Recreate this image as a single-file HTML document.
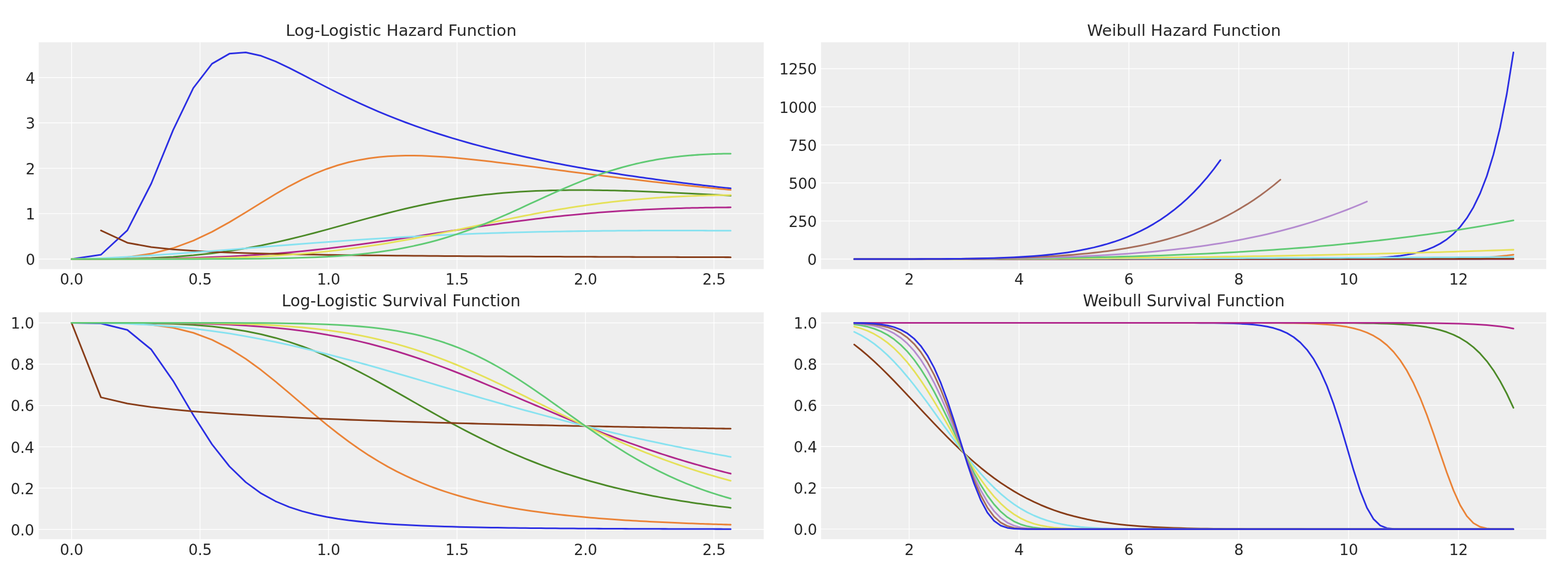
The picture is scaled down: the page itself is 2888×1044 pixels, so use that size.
<!DOCTYPE html>
<html lang="en"><head><meta charset="utf-8"><title>Hazard and Survival Functions</title>
<style>
html,body{margin:0;padding:0;background:#fff;}
body{width:2888px;height:1044px;overflow:hidden;}
svg{display:block;}
text{font-family:"DejaVu Sans","Liberation Sans",sans-serif;fill:#262626;}
.tk{font-size:27.62px;letter-spacing:-0.35px;}
.tt{font-size:29.6px;}
.g{stroke:#fff;stroke-width:1.4;fill:none;stroke-linecap:square;}
.l{fill:none;stroke-width:3.03;stroke-linecap:round;stroke-linejoin:round;}
</style></head>
<body>
<svg width="2888" height="1044" viewBox="0 0 2888 1044">
<rect width="2888" height="1044" fill="#fff"/>
<g id="ax0">
<rect x="71.3" y="77.8" width="1335.4" height="417.7" fill="#eeeeee"/>
<path class="g" stroke-linecap="butt" d="M131.8 77.8V495.5M368.45 77.8V495.5M605.1 77.8V495.5M841.76 77.8V495.5M1078.41 77.8V495.5M1315.06 77.8V495.5M71.3 476.98H1406.7M71.3 393.42H1406.7M71.3 309.86H1406.7M71.3 226.3H1406.7M71.3 142.74H1406.7"/>
<path class="l" stroke="#2b2ee3" d="M131.8 476.98 185.95 468.99 234.54 424.16 278.6 338 318.9 239.43 356.04 162.09 390.48 117.34 422.58 98.83 452.64 96.52 480.91 102.84 507.58 113.21 532.83 125.17 556.8 137.4 579.61 149.27 601.38 160.5 622.19 170.98 642.12 180.68 661.24 189.65 679.63 197.92 697.32 205.57 714.38 212.63 730.84 219.18 746.76 225.25 762.15 230.9 777.06 236.17 791.51 241.09 805.54 245.69 819.16 250.02 832.4 254.08 845.28 257.9 857.81 261.51 870.03 264.93 881.94 268.16 893.55 271.22 904.89 274.13 915.96 276.9 926.78 279.53 937.36 282.05 947.7 284.45 957.83 286.74 967.74 288.94 977.45 291.05 986.96 293.07 996.29 295.01 1005.44 296.87 1014.41 298.66 1023.22 300.39 1031.86 302.05 1040.35 303.66 1048.69 305.2 1056.89 306.7 1064.94 308.15 1072.86 309.54 1080.66 310.9 1088.32 312.21 1095.86 313.48 1103.29 314.71 1110.6 315.91 1117.8 317.07 1124.89 318.19 1131.87 319.29 1138.76 320.35 1145.54 321.39 1152.23 322.4 1158.83 323.38 1165.34 324.33 1171.75 325.27 1178.09 326.17 1184.33 327.06 1190.5 327.92 1196.59 328.77 1202.6 329.59 1208.53 330.4 1214.4 331.18 1220.19 331.95 1225.91 332.7 1231.56 333.44 1237.14 334.16 1242.66 334.86 1248.12 335.55 1253.51 336.23 1258.84 336.89 1264.12 337.53 1269.33 338.17 1274.49 338.79 1279.59 339.4 1284.64 340 1289.64 340.58 1294.58 341.16 1299.47 341.73 1304.32 342.28 1309.11 342.83 1313.85 343.36 1318.55 343.89 1323.2 344.4 1327.81 344.91 1332.37 345.41 1336.89 345.9 1341.37 346.38 1345.8 346.86"/>
<path class="l" stroke="#ea8337" d="M131.8 476.98 185.95 476.48 234.54 473.57 278.6 467.1 318.9 456.82 356.04 443.14 390.48 426.88 422.58 409.14 452.64 391.01 480.91 373.48 507.58 357.27 532.83 342.81 556.8 330.33 579.61 319.82 601.38 311.19 622.19 304.26 642.12 298.81 661.24 294.64 679.63 291.53 697.32 289.32 714.38 287.83 730.84 286.95 746.76 286.55 762.15 286.54 777.06 286.85 791.51 287.41 805.54 288.16 819.16 289.07 832.4 290.1 845.28 291.22 857.81 292.42 870.03 293.66 881.94 294.94 893.55 296.24 904.89 297.56 915.96 298.88 926.78 300.2 937.36 301.51 947.7 302.81 957.83 304.1 967.74 305.37 977.45 306.62 986.96 307.86 996.29 309.07 1005.44 310.26 1014.41 311.43 1023.22 312.58 1031.86 313.7 1040.35 314.8 1048.69 315.88 1056.89 316.94 1064.94 317.97 1072.86 318.98 1080.66 319.97 1088.32 320.94 1095.86 321.89 1103.29 322.82 1110.6 323.73 1117.8 324.62 1124.89 325.5 1131.87 326.35 1138.76 327.19 1145.54 328 1152.23 328.81 1158.83 329.59 1165.34 330.36 1171.75 331.12 1178.09 331.86 1184.33 332.58 1190.5 333.29 1196.59 333.99 1202.6 334.67 1208.53 335.34 1214.4 336 1220.19 336.65 1225.91 337.28 1231.56 337.9 1237.14 338.51 1242.66 339.11 1248.12 339.7 1253.51 340.28 1258.84 340.85 1264.12 341.41 1269.33 341.95 1274.49 342.49 1279.59 343.02 1284.64 343.55 1289.64 344.06 1294.58 344.56 1299.47 345.06 1304.32 345.55 1309.11 346.03 1313.85 346.5 1318.55 346.97 1323.2 347.42 1327.81 347.87 1332.37 348.32 1336.89 348.76 1341.37 349.19 1345.8 349.61"/>
<path class="l" stroke="#4c8a28" d="M131.8 476.98 185.95 476.88 234.54 476.3 278.6 475.01 318.9 472.92 356.04 470.02 390.48 466.39 422.58 462.09 452.64 457.23 480.91 451.95 507.58 446.34 532.83 440.53 556.8 434.62 579.61 428.7 601.38 422.86 622.19 417.16 642.12 411.66 661.24 406.39 679.63 401.4 697.32 396.68 714.38 392.26 730.84 388.15 746.76 384.32 762.15 380.79 777.06 377.54 791.51 374.56 805.54 371.83 819.16 369.34 832.4 367.07 845.28 365.02 857.81 363.16 870.03 361.48 881.94 359.97 893.55 358.61 904.89 357.4 915.96 356.31 926.78 355.35 937.36 354.49 947.7 353.74 957.83 353.08 967.74 352.5 977.45 352 986.96 351.56 996.29 351.2 1005.44 350.89 1014.41 350.63 1023.22 350.43 1031.86 350.27 1040.35 350.15 1048.69 350.06 1056.89 350.01 1064.94 349.99 1072.86 350 1080.66 350.04 1088.32 350.1 1095.86 350.18 1103.29 350.28 1110.6 350.39 1117.8 350.52 1124.89 350.67 1131.87 350.83 1138.76 351 1145.54 351.19 1152.23 351.38 1158.83 351.58 1165.34 351.79 1171.75 352 1178.09 352.23 1184.33 352.45 1190.5 352.69 1196.59 352.92 1202.6 353.17 1208.53 353.41 1214.4 353.66 1220.19 353.91 1225.91 354.16 1231.56 354.42 1237.14 354.67 1242.66 354.93 1248.12 355.19 1253.51 355.45 1258.84 355.71 1264.12 355.97 1269.33 356.23 1274.49 356.49 1279.59 356.75 1284.64 357.01 1289.64 357.27 1294.58 357.53 1299.47 357.79 1304.32 358.04 1309.11 358.3 1313.85 358.56 1318.55 358.81 1323.2 359.06 1327.81 359.32 1332.37 359.57 1336.89 359.82 1341.37 360.07 1345.8 360.31"/>
<path class="l" stroke="#b1288c" d="M131.8 476.98 185.95 476.95 234.54 476.76 278.6 476.35 318.9 475.69 356.04 474.76 390.48 473.59 422.58 472.18 452.64 470.55 480.91 468.75 507.58 466.78 532.83 464.67 556.8 462.44 579.61 460.13 601.38 457.74 622.19 455.3 642.12 452.83 661.24 450.34 679.63 447.85 697.32 445.37 714.38 442.91 730.84 440.48 746.76 438.09 762.15 435.74 777.06 433.44 791.51 431.21 805.54 429.03 819.16 426.91 832.4 424.86 845.28 422.88 857.81 420.96 870.03 419.11 881.94 417.33 893.55 415.62 904.89 413.97 915.96 412.39 926.78 410.87 937.36 409.42 947.7 408.02 957.83 406.69 967.74 405.41 977.45 404.19 986.96 403.02 996.29 401.91 1005.44 400.84 1014.41 399.82 1023.22 398.85 1031.86 397.93 1040.35 397.05 1048.69 396.21 1056.89 395.4 1064.94 394.64 1072.86 393.91 1080.66 393.22 1088.32 392.56 1095.86 391.93 1103.29 391.34 1110.6 390.77 1117.8 390.23 1124.89 389.72 1131.87 389.23 1138.76 388.77 1145.54 388.33 1152.23 387.91 1158.83 387.51 1165.34 387.13 1171.75 386.78 1178.09 386.44 1184.33 386.12 1190.5 385.82 1196.59 385.53 1202.6 385.26 1208.53 385 1214.4 384.76 1220.19 384.53 1225.91 384.31 1231.56 384.11 1237.14 383.92 1242.66 383.73 1248.12 383.56 1253.51 383.4 1258.84 383.25 1264.12 383.11 1269.33 382.98 1274.49 382.86 1279.59 382.74 1284.64 382.64 1289.64 382.54 1294.58 382.45 1299.47 382.36 1304.32 382.28 1309.11 382.21 1313.85 382.15 1318.55 382.09 1323.2 382.03 1327.81 381.98 1332.37 381.94 1336.89 381.9 1341.37 381.87 1345.8 381.84"/>
<path class="l" stroke="#883d19" d="M185.95 424.29 234.54 446.89 278.6 455 318.9 459.24 356.04 461.86 390.48 463.66 422.58 464.97 452.64 465.98 480.91 466.77 507.58 467.42 532.83 467.96 556.8 468.42 579.61 468.81 601.38 469.14 622.19 469.44 642.12 469.71 661.24 469.94 679.63 470.15 697.32 470.34 714.38 470.52 730.84 470.68 746.76 470.82 762.15 470.96 777.06 471.08 791.51 471.2 805.54 471.31 819.16 471.41 832.4 471.5 845.28 471.59 857.81 471.67 870.03 471.75 881.94 471.83 893.55 471.9 904.89 471.97 915.96 472.03 926.78 472.09 937.36 472.15 947.7 472.2 957.83 472.25 967.74 472.31 977.45 472.35 986.96 472.4 996.29 472.44 1005.44 472.49 1014.41 472.53 1023.22 472.57 1031.86 472.61 1040.35 472.64 1048.69 472.68 1056.89 472.71 1064.94 472.75 1072.86 472.78 1080.66 472.81 1088.32 472.84 1095.86 472.87 1103.29 472.9 1110.6 472.92 1117.8 472.95 1124.89 472.98 1131.87 473 1138.76 473.03 1145.54 473.05 1152.23 473.07 1158.83 473.1 1165.34 473.12 1171.75 473.14 1178.09 473.16 1184.33 473.18 1190.5 473.2 1196.59 473.22 1202.6 473.24 1208.53 473.26 1214.4 473.28 1220.19 473.29 1225.91 473.31 1231.56 473.33 1237.14 473.34 1242.66 473.36 1248.12 473.38 1253.51 473.39 1258.84 473.41 1264.12 473.42 1269.33 473.44 1274.49 473.45 1279.59 473.47 1284.64 473.48 1289.64 473.49 1294.58 473.51 1299.47 473.52 1304.32 473.53 1309.11 473.54 1313.85 473.56 1318.55 473.57 1323.2 473.58 1327.81 473.59 1332.37 473.6 1336.89 473.62 1341.37 473.63 1345.8 473.64"/>
<path class="l" stroke="#88e2f0" d="M131.8 476.98 185.95 475.43 234.54 473.03 278.6 470.35 318.9 467.59 356.04 464.86 390.48 462.21 422.58 459.67 452.64 457.26 480.91 454.99 507.58 452.86 532.83 450.87 556.8 449.01 579.61 447.28 601.38 445.67 622.19 444.18 642.12 442.78 661.24 441.49 679.63 440.29 697.32 439.17 714.38 438.14 730.84 437.17 746.76 436.28 762.15 435.45 777.06 434.67 791.51 433.95 805.54 433.28 819.16 432.65 832.4 432.07 845.28 431.53 857.81 431.02 870.03 430.55 881.94 430.11 893.55 429.7 904.89 429.32 915.96 428.96 926.78 428.63 937.36 428.32 947.7 428.03 957.83 427.76 967.74 427.51 977.45 427.27 986.96 427.05 996.29 426.84 1005.44 426.65 1014.41 426.47 1023.22 426.31 1031.86 426.15 1040.35 426.01 1048.69 425.87 1056.89 425.75 1064.94 425.63 1072.86 425.52 1080.66 425.42 1088.32 425.33 1095.86 425.24 1103.29 425.16 1110.6 425.09 1117.8 425.02 1124.89 424.96 1131.87 424.9 1138.76 424.85 1145.54 424.8 1152.23 424.76 1158.83 424.72 1165.34 424.69 1171.75 424.66 1178.09 424.63 1184.33 424.61 1190.5 424.59 1196.59 424.57 1202.6 424.55 1208.53 424.54 1214.4 424.53 1220.19 424.52 1225.91 424.52 1231.56 424.51 1237.14 424.51 1242.66 424.51 1248.12 424.52 1253.51 424.52 1258.84 424.53 1264.12 424.53 1269.33 424.54 1274.49 424.55 1279.59 424.57 1284.64 424.58 1289.64 424.59 1294.58 424.61 1299.47 424.63 1304.32 424.64 1309.11 424.66 1313.85 424.68 1318.55 424.7 1323.2 424.72 1327.81 424.75 1332.37 424.77 1336.89 424.79 1341.37 424.82 1345.8 424.84"/>
<path class="l" stroke="#e5e159" d="M131.8 476.98 185.95 476.97 234.54 476.93 278.6 476.79 318.9 476.51 356.04 476.06 390.48 475.42 422.58 474.57 452.64 473.52 480.91 472.25 507.58 470.77 532.83 469.1 556.8 467.25 579.61 465.22 601.38 463.04 622.19 460.73 642.12 458.29 661.24 455.74 679.63 453.1 697.32 450.4 714.38 447.63 730.84 444.83 746.76 442 762.15 439.16 777.06 436.32 791.51 433.48 805.54 430.67 819.16 427.89 832.4 425.15 845.28 422.46 857.81 419.81 870.03 417.23 881.94 414.71 893.55 412.25 904.89 409.86 915.96 407.54 926.78 405.29 937.36 403.12 947.7 401.02 957.83 398.99 967.74 397.04 977.45 395.15 986.96 393.35 996.29 391.61 1005.44 389.94 1014.41 388.34 1023.22 386.81 1031.86 385.34 1040.35 383.93 1048.69 382.59 1056.89 381.3 1064.94 380.07 1072.86 378.9 1080.66 377.78 1088.32 376.71 1095.86 375.69 1103.29 374.72 1110.6 373.8 1117.8 372.92 1124.89 372.08 1131.87 371.28 1138.76 370.52 1145.54 369.8 1152.23 369.12 1158.83 368.47 1165.34 367.85 1171.75 367.27 1178.09 366.71 1184.33 366.18 1190.5 365.68 1196.59 365.21 1202.6 364.76 1208.53 364.34 1214.4 363.94 1220.19 363.56 1225.91 363.21 1231.56 362.87 1237.14 362.55 1242.66 362.25 1248.12 361.97 1253.51 361.71 1258.84 361.46 1264.12 361.23 1269.33 361.01 1274.49 360.81 1279.59 360.62 1284.64 360.44 1289.64 360.28 1294.58 360.12 1299.47 359.98 1304.32 359.85 1309.11 359.73 1313.85 359.62 1318.55 359.52 1323.2 359.43 1327.81 359.34 1332.37 359.27 1336.89 359.2 1341.37 359.14 1345.8 359.09"/>
<path class="l" stroke="#60ca74" d="M131.8 476.98 185.95 476.98 234.54 476.98 278.6 476.97 318.9 476.96 356.04 476.93 390.48 476.86 422.58 476.73 452.64 476.53 480.91 476.24 507.58 475.83 532.83 475.29 556.8 474.59 579.61 473.72 601.38 472.65 622.19 471.38 642.12 469.89 661.24 468.18 679.63 466.22 697.32 464.03 714.38 461.6 730.84 458.93 746.76 456.02 762.15 452.88 777.06 449.52 791.51 445.95 805.54 442.18 819.16 438.23 832.4 434.12 845.28 429.87 857.81 425.49 870.03 421 881.94 416.43 893.55 411.8 904.89 407.12 915.96 402.42 926.78 397.72 937.36 393.03 947.7 388.37 957.83 383.76 967.74 379.22 977.45 374.74 986.96 370.36 996.29 366.07 1005.44 361.89 1014.41 357.82 1023.22 353.87 1031.86 350.05 1040.35 346.35 1048.69 342.79 1056.89 339.36 1064.94 336.07 1072.86 332.91 1080.66 329.88 1088.32 326.99 1095.86 324.23 1103.29 321.59 1110.6 319.08 1117.8 316.69 1124.89 314.42 1131.87 312.27 1138.76 310.23 1145.54 308.3 1152.23 306.47 1158.83 304.74 1165.34 303.11 1171.75 301.58 1178.09 300.13 1184.33 298.77 1190.5 297.49 1196.59 296.28 1202.6 295.15 1208.53 294.1 1214.4 293.11 1220.19 292.18 1225.91 291.32 1231.56 290.51 1237.14 289.77 1242.66 289.07 1248.12 288.42 1253.51 287.83 1258.84 287.28 1264.12 286.77 1269.33 286.3 1274.49 285.87 1279.59 285.48 1284.64 285.12 1289.64 284.8 1294.58 284.5 1299.47 284.24 1304.32 284 1309.11 283.8 1313.85 283.61 1318.55 283.46 1323.2 283.32 1327.81 283.2 1332.37 283.11 1336.89 283.04 1341.37 282.98 1345.8 282.94"/>
<text class="tk" text-anchor="middle" x="131.8" y="524">0.0</text>
<text class="tk" text-anchor="middle" x="368.45" y="524">0.5</text>
<text class="tk" text-anchor="middle" x="605.1" y="524">1.0</text>
<text class="tk" text-anchor="middle" x="841.76" y="524">1.5</text>
<text class="tk" text-anchor="middle" x="1078.41" y="524">2.0</text>
<text class="tk" text-anchor="middle" x="1315.06" y="524">2.5</text>
<text class="tk" text-anchor="end" x="64.4" y="488">0</text>
<text class="tk" text-anchor="end" x="64.4" y="404">1</text>
<text class="tk" text-anchor="end" x="64.4" y="321">2</text>
<text class="tk" text-anchor="end" x="64.4" y="237">3</text>
<text class="tk" text-anchor="end" x="64.4" y="154">4</text>
<text class="tt" text-anchor="middle" transform="translate(738.8 66) scale(1.0 0.975)">Log-Logistic Hazard Function</text>
</g>
<g id="ax1">
<rect x="1512.3" y="77.8" width="1335.6" height="417.7" fill="#eeeeee"/>
<path class="g" stroke-linecap="butt" d="M1674.49 77.8V495.5M1876.85 77.8V495.5M2079.22 77.8V495.5M2281.58 77.8V495.5M2483.95 77.8V495.5M2686.31 77.8V495.5M1512.3 476.98H2847.9M1512.3 406.89H2847.9M1512.3 336.8H2847.9M1512.3 266.7H2847.9M1512.3 196.61H2847.9M1512.3 126.52H2847.9"/>
<path class="l" stroke="#2b2ee3" d="M1573.31 476.98 1585.57 476.98 1597.84 476.98 1610.1 476.98 1622.37 476.98 1634.63 476.98 1646.9 476.98 1659.16 476.98 1671.42 476.98 1683.69 476.98 1695.95 476.98 1708.22 476.98 1720.48 476.98 1732.75 476.98 1745.01 476.98 1757.28 476.98 1769.54 476.98 1781.8 476.98 1794.07 476.98 1806.33 476.98 1818.6 476.98 1830.86 476.98 1843.13 476.98 1855.39 476.98 1867.66 476.98 1879.92 476.98 1892.19 476.98 1904.45 476.98 1916.71 476.98 1928.98 476.98 1941.24 476.98 1953.51 476.98 1965.77 476.98 1978.04 476.98 1990.3 476.98 2002.57 476.98 2014.83 476.98 2027.09 476.98 2039.36 476.98 2051.62 476.98 2063.89 476.98 2076.15 476.98 2088.42 476.98 2100.68 476.98 2112.95 476.98 2125.21 476.98 2137.47 476.98 2149.74 476.98 2162 476.98 2174.27 476.98 2186.53 476.98 2198.8 476.98 2211.06 476.98 2223.33 476.98 2235.59 476.98 2247.85 476.98 2260.12 476.98 2272.38 476.97 2284.65 476.97 2296.91 476.97 2309.18 476.97 2321.44 476.97 2333.71 476.96 2345.97 476.96 2358.23 476.95 2370.5 476.94 2382.76 476.92 2395.03 476.9 2407.29 476.87 2419.56 476.83 2431.82 476.78 2444.09 476.71 2456.35 476.62 2468.61 476.49 2480.88 476.33 2493.14 476.11 2505.41 475.82 2517.67 475.44 2529.94 474.94 2542.2 474.29 2554.47 473.45 2566.73 472.35 2579 470.93 2591.26 469.1 2603.52 466.75 2615.79 463.72 2628.05 459.86 2640.32 454.92 2652.58 448.64 2664.85 440.66 2677.11 430.55 2689.38 417.78 2701.64 401.68 2713.9 381.42 2726.17 356 2738.43 324.18 2750.7 284.41 2762.96 234.82 2775.23 173.13 2787.49 96.52"/>
<path class="l" stroke="#ea8337" d="M1573.31 476.98 1585.57 476.98 1597.84 476.98 1610.1 476.98 1622.37 476.98 1634.63 476.98 1646.9 476.98 1659.16 476.98 1671.42 476.98 1683.69 476.98 1695.95 476.98 1708.22 476.98 1720.48 476.98 1732.75 476.98 1745.01 476.98 1757.28 476.98 1769.54 476.98 1781.8 476.98 1794.07 476.98 1806.33 476.98 1818.6 476.98 1830.86 476.98 1843.13 476.98 1855.39 476.98 1867.66 476.98 1879.92 476.98 1892.19 476.98 1904.45 476.98 1916.71 476.98 1928.98 476.98 1941.24 476.98 1953.51 476.98 1965.77 476.98 1978.04 476.98 1990.3 476.98 2002.57 476.98 2014.83 476.98 2027.09 476.98 2039.36 476.98 2051.62 476.98 2063.89 476.98 2076.15 476.98 2088.42 476.98 2100.68 476.98 2112.95 476.98 2125.21 476.98 2137.47 476.98 2149.74 476.98 2162 476.98 2174.27 476.98 2186.53 476.98 2198.8 476.98 2211.06 476.98 2223.33 476.98 2235.59 476.98 2247.85 476.98 2260.12 476.98 2272.38 476.98 2284.65 476.98 2296.91 476.98 2309.18 476.98 2321.44 476.98 2333.71 476.98 2345.97 476.98 2358.23 476.98 2370.5 476.98 2382.76 476.98 2395.03 476.98 2407.29 476.98 2419.56 476.97 2431.82 476.97 2444.09 476.97 2456.35 476.97 2468.61 476.97 2480.88 476.96 2493.14 476.96 2505.41 476.95 2517.67 476.94 2529.94 476.93 2542.2 476.92 2554.47 476.9 2566.73 476.88 2579 476.85 2591.26 476.81 2603.52 476.76 2615.79 476.7 2628.05 476.61 2640.32 476.51 2652.58 476.38 2664.85 476.21 2677.11 475.99 2689.38 475.72 2701.64 475.38 2713.9 474.95 2726.17 474.41 2738.43 473.74 2750.7 472.89 2762.96 471.84 2775.23 470.54 2787.49 468.91"/>
<path class="l" stroke="#4c8a28" d="M1573.31 476.98 1585.57 476.98 1597.84 476.98 1610.1 476.98 1622.37 476.98 1634.63 476.98 1646.9 476.98 1659.16 476.98 1671.42 476.98 1683.69 476.98 1695.95 476.98 1708.22 476.98 1720.48 476.98 1732.75 476.98 1745.01 476.98 1757.28 476.98 1769.54 476.98 1781.8 476.98 1794.07 476.98 1806.33 476.98 1818.6 476.98 1830.86 476.98 1843.13 476.98 1855.39 476.98 1867.66 476.98 1879.92 476.98 1892.19 476.98 1904.45 476.98 1916.71 476.98 1928.98 476.98 1941.24 476.98 1953.51 476.98 1965.77 476.98 1978.04 476.98 1990.3 476.98 2002.57 476.98 2014.83 476.98 2027.09 476.98 2039.36 476.98 2051.62 476.98 2063.89 476.98 2076.15 476.98 2088.42 476.98 2100.68 476.98 2112.95 476.98 2125.21 476.98 2137.47 476.98 2149.74 476.98 2162 476.98 2174.27 476.98 2186.53 476.98 2198.8 476.98 2211.06 476.98 2223.33 476.98 2235.59 476.98 2247.85 476.98 2260.12 476.98 2272.38 476.98 2284.65 476.98 2296.91 476.98 2309.18 476.98 2321.44 476.98 2333.71 476.98 2345.97 476.98 2358.23 476.98 2370.5 476.98 2382.76 476.98 2395.03 476.98 2407.29 476.98 2419.56 476.98 2431.82 476.98 2444.09 476.98 2456.35 476.98 2468.61 476.98 2480.88 476.98 2493.14 476.98 2505.41 476.98 2517.67 476.98 2529.94 476.98 2542.2 476.98 2554.47 476.97 2566.73 476.97 2579 476.97 2591.26 476.97 2603.52 476.97 2615.79 476.97 2628.05 476.96 2640.32 476.96 2652.58 476.96 2664.85 476.95 2677.11 476.94 2689.38 476.93 2701.64 476.92 2713.9 476.91 2726.17 476.89 2738.43 476.86 2750.7 476.83 2762.96 476.8 2775.23 476.75 2787.49 476.69"/>
<path class="l" stroke="#b1288c" d="M1573.31 476.98 1585.57 476.98 1597.84 476.98 1610.1 476.98 1622.37 476.98 1634.63 476.98 1646.9 476.98 1659.16 476.98 1671.42 476.98 1683.69 476.98 1695.95 476.98 1708.22 476.98 1720.48 476.98 1732.75 476.98 1745.01 476.98 1757.28 476.98 1769.54 476.98 1781.8 476.98 1794.07 476.98 1806.33 476.98 1818.6 476.98 1830.86 476.98 1843.13 476.98 1855.39 476.98 1867.66 476.98 1879.92 476.98 1892.19 476.98 1904.45 476.98 1916.71 476.98 1928.98 476.98 1941.24 476.98 1953.51 476.98 1965.77 476.98 1978.04 476.98 1990.3 476.98 2002.57 476.98 2014.83 476.98 2027.09 476.98 2039.36 476.98 2051.62 476.98 2063.89 476.98 2076.15 476.98 2088.42 476.98 2100.68 476.98 2112.95 476.98 2125.21 476.98 2137.47 476.98 2149.74 476.98 2162 476.98 2174.27 476.98 2186.53 476.98 2198.8 476.98 2211.06 476.98 2223.33 476.98 2235.59 476.98 2247.85 476.98 2260.12 476.98 2272.38 476.98 2284.65 476.98 2296.91 476.98 2309.18 476.98 2321.44 476.98 2333.71 476.98 2345.97 476.98 2358.23 476.98 2370.5 476.98 2382.76 476.98 2395.03 476.98 2407.29 476.98 2419.56 476.98 2431.82 476.98 2444.09 476.98 2456.35 476.98 2468.61 476.98 2480.88 476.98 2493.14 476.98 2505.41 476.98 2517.67 476.98 2529.94 476.98 2542.2 476.98 2554.47 476.98 2566.73 476.98 2579 476.98 2591.26 476.98 2603.52 476.98 2615.79 476.98 2628.05 476.98 2640.32 476.98 2652.58 476.98 2664.85 476.98 2677.11 476.98 2689.38 476.97 2701.64 476.97 2713.9 476.97 2726.17 476.97 2738.43 476.97 2750.7 476.97 2762.96 476.97 2775.23 476.97 2787.49 476.96"/>
<path class="l" stroke="#883d19" d="M1573.31 476.91 1585.57 476.91 1597.84 476.9 1610.1 476.89 1622.37 476.88 1634.63 476.88 1646.9 476.87 1659.16 476.86 1671.42 476.85 1683.69 476.85 1695.95 476.84 1708.22 476.83 1720.48 476.82 1732.75 476.82 1745.01 476.81 1757.28 476.8 1769.54 476.79 1781.8 476.79 1794.07 476.78 1806.33 476.77 1818.6 476.76 1830.86 476.76 1843.13 476.75 1855.39 476.74 1867.66 476.73 1879.92 476.73 1892.19 476.72 1904.45 476.71 1916.71 476.7 1928.98 476.7 1941.24 476.69 1953.51 476.68 1965.77 476.67 1978.04 476.67 1990.3 476.66 2002.57 476.65 2014.83 476.64 2027.09 476.64 2039.36 476.63 2051.62 476.62 2063.89 476.61 2076.15 476.61 2088.42 476.6 2100.68 476.59 2112.95 476.58 2125.21 476.58 2137.47 476.57 2149.74 476.56 2162 476.55 2174.27 476.54 2186.53 476.54 2198.8 476.53 2211.06 476.52 2223.33 476.51 2235.59 476.51 2247.85 476.5 2260.12 476.49 2272.38 476.48 2284.65 476.48 2296.91 476.47 2309.18 476.46 2321.44 476.45 2333.71 476.45 2345.97 476.44 2358.23 476.43 2370.5 476.42 2382.76 476.42 2395.03 476.41 2407.29 476.4 2419.56 476.39 2431.82 476.39 2444.09 476.38 2456.35 476.37 2468.61 476.36 2480.88 476.36 2493.14 476.35 2505.41 476.34 2517.67 476.33 2529.94 476.33 2542.2 476.32 2554.47 476.31 2566.73 476.3 2579 476.3 2591.26 476.29 2603.52 476.28 2615.79 476.27 2628.05 476.27 2640.32 476.26 2652.58 476.25 2664.85 476.24 2677.11 476.24 2689.38 476.23 2701.64 476.22 2713.9 476.21 2726.17 476.21 2738.43 476.2 2750.7 476.19 2762.96 476.18 2775.23 476.17 2787.49 476.17"/>
<path class="l" stroke="#88e2f0" d="M1573.31 476.94 1585.57 476.93 1597.84 476.92 1610.1 476.91 1622.37 476.9 1634.63 476.89 1646.9 476.88 1659.16 476.87 1671.42 476.85 1683.69 476.84 1695.95 476.83 1708.22 476.81 1720.48 476.79 1732.75 476.78 1745.01 476.76 1757.28 476.74 1769.54 476.72 1781.8 476.7 1794.07 476.68 1806.33 476.66 1818.6 476.64 1830.86 476.62 1843.13 476.59 1855.39 476.57 1867.66 476.55 1879.92 476.52 1892.19 476.5 1904.45 476.47 1916.71 476.44 1928.98 476.42 1941.24 476.39 1953.51 476.36 1965.77 476.33 1978.04 476.3 1990.3 476.27 2002.57 476.24 2014.83 476.21 2027.09 476.18 2039.36 476.14 2051.62 476.11 2063.89 476.08 2076.15 476.04 2088.42 476.01 2100.68 475.97 2112.95 475.94 2125.21 475.9 2137.47 475.86 2149.74 475.82 2162 475.78 2174.27 475.75 2186.53 475.71 2198.8 475.67 2211.06 475.62 2223.33 475.58 2235.59 475.54 2247.85 475.5 2260.12 475.46 2272.38 475.41 2284.65 475.37 2296.91 475.32 2309.18 475.28 2321.44 475.23 2333.71 475.18 2345.97 475.14 2358.23 475.09 2370.5 475.04 2382.76 474.99 2395.03 474.94 2407.29 474.89 2419.56 474.84 2431.82 474.79 2444.09 474.74 2456.35 474.69 2468.61 474.64 2480.88 474.58 2493.14 474.53 2505.41 474.48 2517.67 474.42 2529.94 474.37 2542.2 474.31 2554.47 474.25 2566.73 474.2 2579 474.14 2591.26 474.08 2603.52 474.02 2615.79 473.96 2628.05 473.9 2640.32 473.84 2652.58 473.78 2664.85 473.72 2677.11 473.66 2689.38 473.6 2701.64 473.54 2713.9 473.47 2726.17 473.41 2738.43 473.35 2750.7 473.28 2762.96 473.22 2775.23 473.15 2787.49 473.08"/>
<path class="l" stroke="#e5e159" d="M1573.31 476.96 1585.57 476.95 1597.84 476.94 1610.1 476.94 1622.37 476.92 1634.63 476.91 1646.9 476.9 1659.16 476.88 1671.42 476.87 1683.69 476.85 1695.95 476.83 1708.22 476.8 1720.48 476.78 1732.75 476.75 1745.01 476.72 1757.28 476.69 1769.54 476.65 1781.8 476.62 1794.07 476.58 1806.33 476.53 1818.6 476.49 1830.86 476.44 1843.13 476.39 1855.39 476.34 1867.66 476.28 1879.92 476.22 1892.19 476.16 1904.45 476.1 1916.71 476.03 1928.98 475.96 1941.24 475.88 1953.51 475.81 1965.77 475.72 1978.04 475.64 1990.3 475.55 2002.57 475.46 2014.83 475.36 2027.09 475.26 2039.36 475.16 2051.62 475.06 2063.89 474.94 2076.15 474.83 2088.42 474.71 2100.68 474.59 2112.95 474.46 2125.21 474.33 2137.47 474.2 2149.74 474.06 2162 473.92 2174.27 473.77 2186.53 473.62 2198.8 473.46 2211.06 473.3 2223.33 473.14 2235.59 472.97 2247.85 472.79 2260.12 472.62 2272.38 472.43 2284.65 472.24 2296.91 472.05 2309.18 471.85 2321.44 471.65 2333.71 471.44 2345.97 471.23 2358.23 471.01 2370.5 470.79 2382.76 470.56 2395.03 470.33 2407.29 470.09 2419.56 469.85 2431.82 469.6 2444.09 469.34 2456.35 469.09 2468.61 468.82 2480.88 468.55 2493.14 468.27 2505.41 467.99 2517.67 467.7 2529.94 467.41 2542.2 467.11 2554.47 466.81 2566.73 466.5 2579 466.18 2591.26 465.86 2603.52 465.53 2615.79 465.2 2628.05 464.86 2640.32 464.51 2652.58 464.16 2664.85 463.8 2677.11 463.44 2689.38 463.07 2701.64 462.69 2713.9 462.31 2726.17 461.92 2738.43 461.52 2750.7 461.12 2762.96 460.71 2775.23 460.3 2787.49 459.87"/>
<path class="l" stroke="#60ca74" d="M1573.31 476.97 1585.57 476.96 1597.84 476.96 1610.1 476.95 1622.37 476.94 1634.63 476.93 1646.9 476.92 1659.16 476.9 1671.42 476.88 1683.69 476.86 1695.95 476.83 1708.22 476.8 1720.48 476.77 1732.75 476.73 1745.01 476.69 1757.28 476.64 1769.54 476.59 1781.8 476.53 1794.07 476.46 1806.33 476.39 1818.6 476.31 1830.86 476.22 1843.13 476.13 1855.39 476.03 1867.66 475.92 1879.92 475.8 1892.19 475.67 1904.45 475.53 1916.71 475.38 1928.98 475.22 1941.24 475.05 1953.51 474.87 1965.77 474.67 1978.04 474.46 1990.3 474.24 2002.57 474.01 2014.83 473.76 2027.09 473.5 2039.36 473.23 2051.62 472.93 2063.89 472.63 2076.15 472.3 2088.42 471.96 2100.68 471.6 2112.95 471.23 2125.21 470.83 2137.47 470.42 2149.74 469.99 2162 469.53 2174.27 469.06 2186.53 468.57 2198.8 468.05 2211.06 467.51 2223.33 466.95 2235.59 466.37 2247.85 465.76 2260.12 465.12 2272.38 464.47 2284.65 463.78 2296.91 463.07 2309.18 462.33 2321.44 461.57 2333.71 460.78 2345.97 459.95 2358.23 459.1 2370.5 458.22 2382.76 457.31 2395.03 456.37 2407.29 455.39 2419.56 454.39 2431.82 453.35 2444.09 452.27 2456.35 451.16 2468.61 450.02 2480.88 448.84 2493.14 447.62 2505.41 446.37 2517.67 445.08 2529.94 443.75 2542.2 442.38 2554.47 440.98 2566.73 439.53 2579 438.04 2591.26 436.51 2603.52 434.94 2615.79 433.32 2628.05 431.66 2640.32 429.95 2652.58 428.2 2664.85 426.4 2677.11 424.56 2689.38 422.67 2701.64 420.73 2713.9 418.74 2726.17 416.7 2738.43 414.62 2750.7 412.48 2762.96 410.28 2775.23 408.04 2787.49 405.74"/>
<path class="l" stroke="#b58cd0" d="M1573.31 476.97 1585.57 476.97 1597.84 476.97 1610.1 476.96 1622.37 476.95 1634.63 476.94 1646.9 476.93 1659.16 476.92 1671.42 476.9 1683.69 476.87 1695.95 476.84 1708.22 476.81 1720.48 476.77 1732.75 476.72 1745.01 476.66 1757.28 476.6 1769.54 476.52 1781.8 476.43 1794.07 476.33 1806.33 476.22 1818.6 476.09 1830.86 475.95 1843.13 475.79 1855.39 475.61 1867.66 475.41 1879.92 475.19 1892.19 474.94 1904.45 474.67 1916.71 474.37 1928.98 474.05 1941.24 473.69 1953.51 473.3 1965.77 472.88 1978.04 472.42 1990.3 471.92 2002.57 471.38 2014.83 470.8 2027.09 470.17 2039.36 469.49 2051.62 468.76 2063.89 467.98 2076.15 467.15 2088.42 466.25 2100.68 465.3 2112.95 464.28 2125.21 463.19 2137.47 462.03 2149.74 460.8 2162 459.49 2174.27 458.11 2186.53 456.64 2198.8 455.08 2211.06 453.43 2223.33 451.69 2235.59 449.85 2247.85 447.91 2260.12 445.87 2272.38 443.71 2284.65 441.45 2296.91 439.07 2309.18 436.56 2321.44 433.93 2333.71 431.17 2345.97 428.28 2358.23 425.25 2370.5 422.07 2382.76 418.75 2395.03 415.27 2407.29 411.64 2419.56 407.85 2431.82 403.88 2444.09 399.75 2456.35 395.44 2468.61 390.94 2480.88 386.26 2493.14 381.38 2505.41 376.3 2517.67 371.02"/>
<path class="l" stroke="#a76e5b" d="M1573.31 476.98 1585.57 476.97 1597.84 476.97 1610.1 476.97 1622.37 476.96 1634.63 476.95 1646.9 476.94 1659.16 476.93 1671.42 476.91 1683.69 476.89 1695.95 476.86 1708.22 476.82 1720.48 476.77 1732.75 476.72 1745.01 476.64 1757.28 476.56 1769.54 476.46 1781.8 476.34 1794.07 476.2 1806.33 476.03 1818.6 475.84 1830.86 475.61 1843.13 475.35 1855.39 475.05 1867.66 474.71 1879.92 474.33 1892.19 473.89 1904.45 473.39 1916.71 472.84 1928.98 472.21 1941.24 471.51 1953.51 470.73 1965.77 469.87 1978.04 468.91 1990.3 467.84 2002.57 466.67 2014.83 465.38 2027.09 463.96 2039.36 462.4 2051.62 460.7 2063.89 458.84 2076.15 456.81 2088.42 454.6 2100.68 452.21 2112.95 449.61 2125.21 446.79 2137.47 443.74 2149.74 440.45 2162 436.91 2174.27 433.09 2186.53 428.98 2198.8 424.57 2211.06 419.83 2223.33 414.76 2235.59 409.33 2247.85 403.53 2260.12 397.33 2272.38 390.71 2284.65 383.66 2296.91 376.15 2309.18 368.16 2321.44 359.66 2333.71 350.64 2345.97 341.07 2358.23 330.92"/>
<path class="l" stroke="#2b2ee3" d="M1573.31 476.98 1585.57 476.98 1597.84 476.97 1610.1 476.97 1622.37 476.97 1634.63 476.96 1646.9 476.95 1659.16 476.94 1671.42 476.92 1683.69 476.9 1695.95 476.87 1708.22 476.83 1720.48 476.78 1732.75 476.72 1745.01 476.63 1757.28 476.53 1769.54 476.4 1781.8 476.24 1794.07 476.05 1806.33 475.81 1818.6 475.53 1830.86 475.19 1843.13 474.8 1855.39 474.33 1867.66 473.78 1879.92 473.13 1892.19 472.38 1904.45 471.52 1916.71 470.52 1928.98 469.37 1941.24 468.06 1953.51 466.57 1965.77 464.88 1978.04 462.96 1990.3 460.79 2002.57 458.35 2014.83 455.61 2027.09 452.55 2039.36 449.12 2051.62 445.31 2063.89 441.07 2076.15 436.36 2088.42 431.16 2100.68 425.41 2112.95 419.07 2125.21 412.09 2137.47 404.43 2149.74 396.02 2162 386.82 2174.27 376.77 2186.53 365.8 2198.8 353.84 2211.06 340.84 2223.33 326.7 2235.59 311.37 2247.85 294.75"/>
<text class="tk" text-anchor="middle" x="1674.49" y="524">2</text>
<text class="tk" text-anchor="middle" x="1876.85" y="524">4</text>
<text class="tk" text-anchor="middle" x="2079.22" y="524">6</text>
<text class="tk" text-anchor="middle" x="2281.58" y="524">8</text>
<text class="tk" text-anchor="middle" x="2483.95" y="524">10</text>
<text class="tk" text-anchor="middle" x="2686.31" y="524">12</text>
<text class="tk" text-anchor="end" x="1504.2" y="488">0</text>
<text class="tk" text-anchor="end" x="1504.2" y="418">250</text>
<text class="tk" text-anchor="end" x="1504.2" y="348">500</text>
<text class="tk" text-anchor="end" x="1504.2" y="278">750</text>
<text class="tk" text-anchor="end" x="1504.2" y="208">1000</text>
<text class="tk" text-anchor="end" x="1504.2" y="137">1250</text>
<text class="tt" text-anchor="middle" transform="translate(2180.8 66) scale(1.0 0.975)">Weibull Hazard Function</text>
</g>
<g id="ax2">
<rect x="71.3" y="575.1" width="1335.4" height="417.6" fill="#eeeeee"/>
<path class="g" stroke-linecap="butt" d="M131.8 575.1V992.7M368.45 575.1V992.7M605.1 575.1V992.7M841.76 575.1V992.7M1078.41 575.1V992.7M1315.06 575.1V992.7M71.3 974.71H1406.7M71.3 898.67H1406.7M71.3 822.62H1406.7M71.3 746.58H1406.7M71.3 670.53H1406.7M71.3 594.48H1406.7"/>
<path class="l" stroke="#2b2ee3" d="M131.8 594.48 185.95 595.52 234.54 607.53 278.6 643.52 318.9 701.31 356.04 764.2 390.48 818.09 422.58 858.77 452.64 887.87 480.91 908.42 507.58 923.04 532.83 933.59 556.8 941.37 579.61 947.2 601.38 951.67 622.19 955.15 642.12 957.91 661.24 960.12 679.63 961.92 697.32 963.4 714.38 964.64 730.84 965.67 746.76 966.55 762.15 967.31 777.06 967.96 791.51 968.52 805.54 969.01 819.16 969.45 832.4 969.83 845.28 970.17 857.81 970.47 870.03 970.74 881.94 970.98 893.55 971.21 904.89 971.4 915.96 971.59 926.78 971.75 937.36 971.9 947.7 972.04 957.83 972.17 967.74 972.29 977.45 972.4 986.96 972.5 996.29 972.59 1005.44 972.68 1014.41 972.76 1023.22 972.83 1031.86 972.91 1040.35 972.97 1048.69 973.03 1056.89 973.09 1064.94 973.15 1072.86 973.2 1080.66 973.25 1088.32 973.29 1095.86 973.34 1103.29 973.38 1110.6 973.42 1117.8 973.46 1124.89 973.49 1131.87 973.53 1138.76 973.56 1145.54 973.59 1152.23 973.62 1158.83 973.65 1165.34 973.67 1171.75 973.7 1178.09 973.72 1184.33 973.74 1190.5 973.77 1196.59 973.79 1202.6 973.81 1208.53 973.83 1214.4 973.85 1220.19 973.87 1225.91 973.88 1231.56 973.9 1237.14 973.92 1242.66 973.93 1248.12 973.95 1253.51 973.96 1258.84 973.98 1264.12 973.99 1269.33 974 1274.49 974.02 1279.59 974.03 1284.64 974.04 1289.64 974.05 1294.58 974.06 1299.47 974.07 1304.32 974.08 1309.11 974.09 1313.85 974.1 1318.55 974.11 1323.2 974.12 1327.81 974.13 1332.37 974.14 1336.89 974.15 1341.37 974.16 1345.8 974.17"/>
<path class="l" stroke="#ea8337" d="M131.8 594.48 185.95 594.55 234.54 595.33 278.6 597.97 318.9 603.55 356.04 612.72 390.48 625.63 422.58 641.9 452.64 660.78 480.91 681.33 507.58 702.61 532.83 723.8 556.8 744.29 579.61 763.63 601.38 781.59 622.19 798.06 642.12 813.01 661.24 826.52 679.63 838.66 697.32 849.56 714.38 859.33 730.84 868.09 746.76 875.95 762.15 883 777.06 889.35 791.51 895.08 805.54 900.24 819.16 904.92 832.4 909.17 845.28 913.03 857.81 916.54 870.03 919.76 881.94 922.7 893.55 925.4 904.89 927.88 915.96 930.16 926.78 932.27 937.36 934.23 947.7 936.04 957.83 937.72 967.74 939.28 977.45 940.74 986.96 942.1 996.29 943.37 1005.44 944.56 1014.41 945.67 1023.22 946.72 1031.86 947.7 1040.35 948.63 1048.69 949.51 1056.89 950.33 1064.94 951.11 1072.86 951.85 1080.66 952.55 1088.32 953.21 1095.86 953.84 1103.29 954.43 1110.6 955 1117.8 955.54 1124.89 956.06 1131.87 956.55 1138.76 957.02 1145.54 957.47 1152.23 957.89 1158.83 958.3 1165.34 958.7 1171.75 959.07 1178.09 959.43 1184.33 959.78 1190.5 960.11 1196.59 960.43 1202.6 960.73 1208.53 961.03 1214.4 961.31 1220.19 961.59 1225.91 961.85 1231.56 962.1 1237.14 962.35 1242.66 962.58 1248.12 962.81 1253.51 963.03 1258.84 963.24 1264.12 963.45 1269.33 963.65 1274.49 963.84 1279.59 964.03 1284.64 964.21 1289.64 964.39 1294.58 964.56 1299.47 964.72 1304.32 964.88 1309.11 965.03 1313.85 965.19 1318.55 965.33 1323.2 965.47 1327.81 965.61 1332.37 965.75 1336.89 965.88 1341.37 966 1345.8 966.13"/>
<path class="l" stroke="#4c8a28" d="M131.8 594.48 185.95 594.5 234.54 594.65 278.6 595.18 318.9 596.31 356.04 598.23 390.48 601.07 422.58 604.89 452.64 609.71 480.91 615.49 507.58 622.16 532.83 629.62 556.8 637.76 579.61 646.45 601.38 655.56 622.19 664.99 642.12 674.6 661.24 684.3 679.63 694 697.32 703.62 714.38 713.1 730.84 722.39 746.76 731.43 762.15 740.21 777.06 748.7 791.51 756.89 805.54 764.76 819.16 772.32 832.4 779.55 845.28 786.48 857.81 793.1 870.03 799.42 881.94 805.45 893.55 811.2 904.89 816.68 915.96 821.91 926.78 826.89 937.36 831.64 947.7 836.16 957.83 840.48 967.74 844.59 977.45 848.52 986.96 852.26 996.29 855.83 1005.44 859.25 1014.41 862.51 1023.22 865.62 1031.86 868.6 1040.35 871.45 1048.69 874.18 1056.89 876.79 1064.94 879.29 1072.86 881.68 1080.66 883.98 1088.32 886.19 1095.86 888.3 1103.29 890.33 1110.6 892.29 1117.8 894.16 1124.89 895.97 1131.87 897.7 1138.76 899.37 1145.54 900.98 1152.23 902.54 1158.83 904.03 1165.34 905.47 1171.75 906.86 1178.09 908.21 1184.33 909.5 1190.5 910.76 1196.59 911.97 1202.6 913.14 1208.53 914.27 1214.4 915.37 1220.19 916.43 1225.91 917.45 1231.56 918.45 1237.14 919.41 1242.66 920.35 1248.12 921.26 1253.51 922.14 1258.84 922.99 1264.12 923.82 1269.33 924.62 1274.49 925.4 1279.59 926.16 1284.64 926.9 1289.64 927.62 1294.58 928.32 1299.47 929 1304.32 929.66 1309.11 930.31 1313.85 930.93 1318.55 931.54 1323.2 932.14 1327.81 932.72 1332.37 933.28 1336.89 933.84 1341.37 934.37 1345.8 934.9"/>
<path class="l" stroke="#b1288c" d="M131.8 594.48 185.95 594.49 234.54 594.54 278.6 594.7 318.9 595.06 356.04 595.68 390.48 596.59 422.58 597.84 452.64 599.44 480.91 601.39 507.58 603.7 532.83 606.35 556.8 609.33 579.61 612.62 601.38 616.19 622.19 620.03 642.12 624.1 661.24 628.38 679.63 632.83 697.32 637.45 714.38 642.19 730.84 647.04 746.76 651.97 762.15 656.96 777.06 662 791.51 667.06 805.54 672.13 819.16 677.2 832.4 682.24 845.28 687.26 857.81 692.23 870.03 697.15 881.94 702.02 893.55 706.82 904.89 711.56 915.96 716.22 926.78 720.8 937.36 725.29 947.7 729.71 957.83 734.04 967.74 738.28 977.45 742.43 986.96 746.49 996.29 750.47 1005.44 754.36 1014.41 758.15 1023.22 761.87 1031.86 765.49 1040.35 769.03 1048.69 772.49 1056.89 775.86 1064.94 779.15 1072.86 782.37 1080.66 785.5 1088.32 788.56 1095.86 791.54 1103.29 794.46 1110.6 797.3 1117.8 800.07 1124.89 802.77 1131.87 805.41 1138.76 807.98 1145.54 810.49 1152.23 812.94 1158.83 815.33 1165.34 817.67 1171.75 819.94 1178.09 822.17 1184.33 824.34 1190.5 826.46 1196.59 828.52 1202.6 830.55 1208.53 832.52 1214.4 834.45 1220.19 836.33 1225.91 838.17 1231.56 839.97 1237.14 841.73 1242.66 843.44 1248.12 845.12 1253.51 846.76 1258.84 848.37 1264.12 849.94 1269.33 851.48 1274.49 852.98 1279.59 854.45 1284.64 855.89 1289.64 857.3 1294.58 858.68 1299.47 860.02 1304.32 861.35 1309.11 862.64 1313.85 863.91 1318.55 865.15 1323.2 866.37 1327.81 867.56 1332.37 868.73 1336.89 869.87 1341.37 870.99 1345.8 872.09"/>
<path class="l" stroke="#883d19" d="M131.8 594.48 185.95 731.64 234.54 743.06 278.6 749.57 318.9 754.04 356.04 757.41 390.48 760.07 422.58 762.26 452.64 764.11 480.91 765.7 507.58 767.08 532.83 768.31 556.8 769.41 579.61 770.4 601.38 771.29 622.19 772.11 642.12 772.87 661.24 773.56 679.63 774.21 697.32 774.81 714.38 775.38 730.84 775.91 746.76 776.4 762.15 776.87 777.06 777.32 791.51 777.74 805.54 778.14 819.16 778.52 832.4 778.88 845.28 779.23 857.81 779.56 870.03 779.87 881.94 780.18 893.55 780.47 904.89 780.75 915.96 781.02 926.78 781.28 937.36 781.53 947.7 781.77 957.83 782.01 967.74 782.24 977.45 782.46 986.96 782.67 996.29 782.87 1005.44 783.07 1014.41 783.27 1023.22 783.46 1031.86 783.64 1040.35 783.82 1048.69 783.99 1056.89 784.16 1064.94 784.33 1072.86 784.49 1080.66 784.64 1088.32 784.8 1095.86 784.95 1103.29 785.09 1110.6 785.23 1117.8 785.37 1124.89 785.51 1131.87 785.64 1138.76 785.77 1145.54 785.9 1152.23 786.03 1158.83 786.15 1165.34 786.27 1171.75 786.39 1178.09 786.5 1184.33 786.62 1190.5 786.73 1196.59 786.84 1202.6 786.94 1208.53 787.05 1214.4 787.15 1220.19 787.25 1225.91 787.35 1231.56 787.45 1237.14 787.55 1242.66 787.64 1248.12 787.73 1253.51 787.83 1258.84 787.92 1264.12 788 1269.33 788.09 1274.49 788.18 1279.59 788.26 1284.64 788.35 1289.64 788.43 1294.58 788.51 1299.47 788.59 1304.32 788.67 1309.11 788.74 1313.85 788.82 1318.55 788.9 1323.2 788.97 1327.81 789.04 1332.37 789.12 1336.89 789.19 1341.37 789.26 1345.8 789.33"/>
<path class="l" stroke="#88e2f0" d="M131.8 594.48 185.95 594.81 234.54 596.07 278.6 598.28 318.9 601.33 356.04 605.08 390.48 609.38 422.58 614.1 452.64 619.14 480.91 624.4 507.58 629.8 532.83 635.29 556.8 640.8 579.61 646.31 601.38 651.78 622.19 657.18 642.12 662.5 661.24 667.71 679.63 672.82 697.32 677.81 714.38 682.68 730.84 687.42 746.76 692.03 762.15 696.52 777.06 700.88 791.51 705.12 805.54 709.23 819.16 713.23 832.4 717.1 845.28 720.87 857.81 724.52 870.03 728.06 881.94 731.5 893.55 734.84 904.89 738.08 915.96 741.23 926.78 744.29 937.36 747.26 947.7 750.14 957.83 752.95 967.74 755.67 977.45 758.32 986.96 760.9 996.29 763.41 1005.44 765.85 1014.41 768.23 1023.22 770.54 1031.86 772.79 1040.35 774.99 1048.69 777.12 1056.89 779.21 1064.94 781.24 1072.86 783.22 1080.66 785.16 1088.32 787.04 1095.86 788.88 1103.29 790.68 1110.6 792.44 1117.8 794.15 1124.89 795.83 1131.87 797.46 1138.76 799.06 1145.54 800.63 1152.23 802.16 1158.83 803.65 1165.34 805.12 1171.75 806.55 1178.09 807.96 1184.33 809.33 1190.5 810.67 1196.59 811.99 1202.6 813.28 1208.53 814.55 1214.4 815.79 1220.19 817 1225.91 818.2 1231.56 819.37 1237.14 820.51 1242.66 821.64 1248.12 822.74 1253.51 823.82 1258.84 824.89 1264.12 825.93 1269.33 826.96 1274.49 827.96 1279.59 828.95 1284.64 829.93 1289.64 830.88 1294.58 831.82 1299.47 832.74 1304.32 833.65 1309.11 834.54 1313.85 835.42 1318.55 836.28 1323.2 837.13 1327.81 837.96 1332.37 838.78 1336.89 839.59 1341.37 840.39 1345.8 841.17"/>
<path class="l" stroke="#e5e159" d="M131.8 594.48 185.95 594.48 234.54 594.49 278.6 594.54 318.9 594.66 356.04 594.9 390.48 595.3 422.58 595.9 452.64 596.74 480.91 597.84 507.58 599.22 532.83 600.9 556.8 602.88 579.61 605.17 601.38 607.77 622.19 610.67 642.12 613.86 661.24 617.32 679.63 621.05 697.32 625.02 714.38 629.21 730.84 633.6 746.76 638.17 762.15 642.91 777.06 647.78 791.51 652.76 805.54 657.85 819.16 663.01 832.4 668.23 845.28 673.49 857.81 678.78 870.03 684.07 881.94 689.36 893.55 694.64 904.89 699.88 915.96 705.08 926.78 710.24 937.36 715.34 947.7 720.37 957.83 725.33 967.74 730.22 977.45 735.03 986.96 739.75 996.29 744.39 1005.44 748.93 1014.41 753.39 1023.22 757.75 1031.86 762.02 1040.35 766.19 1048.69 770.28 1056.89 774.26 1064.94 778.16 1072.86 781.96 1080.66 785.67 1088.32 789.29 1095.86 792.82 1103.29 796.26 1110.6 799.61 1117.8 802.89 1124.89 806.07 1131.87 809.18 1138.76 812.21 1145.54 815.16 1152.23 818.04 1158.83 820.84 1165.34 823.57 1171.75 826.23 1178.09 828.82 1184.33 831.35 1190.5 833.81 1196.59 836.21 1202.6 838.54 1208.53 840.82 1214.4 843.04 1220.19 845.21 1225.91 847.32 1231.56 849.37 1237.14 851.38 1242.66 853.34 1248.12 855.25 1253.51 857.11 1258.84 858.92 1264.12 860.69 1269.33 862.42 1274.49 864.11 1279.59 865.76 1284.64 867.37 1289.64 868.93 1294.58 870.47 1299.47 871.96 1304.32 873.43 1309.11 874.85 1313.85 876.25 1318.55 877.61 1323.2 878.95 1327.81 880.25 1332.37 881.52 1336.89 882.77 1341.37 883.99 1345.8 885.18"/>
<path class="l" stroke="#60ca74" d="M131.8 594.48 185.95 594.48 234.54 594.48 278.6 594.48 318.9 594.49 356.04 594.5 390.48 594.53 422.58 594.58 452.64 594.68 480.91 594.84 507.58 595.07 532.83 595.41 556.8 595.88 579.61 596.49 601.38 597.27 622.19 598.25 642.12 599.45 661.24 600.88 679.63 602.58 697.32 604.54 714.38 606.79 730.84 609.34 746.76 612.19 762.15 615.35 777.06 618.82 791.51 622.6 805.54 626.68 819.16 631.06 832.4 635.72 845.28 640.65 857.81 645.83 870.03 651.24 881.94 656.86 893.55 662.67 904.89 668.65 915.96 674.78 926.78 681.02 937.36 687.36 947.7 693.77 957.83 700.24 967.74 706.73 977.45 713.22 986.96 719.71 996.29 726.17 1005.44 732.58 1014.41 738.93 1023.22 745.2 1031.86 751.39 1040.35 757.48 1048.69 763.46 1056.89 769.33 1064.94 775.07 1072.86 780.69 1080.66 786.18 1088.32 791.53 1095.86 796.74 1103.29 801.82 1110.6 806.75 1117.8 811.54 1124.89 816.2 1131.87 820.72 1138.76 825.09 1145.54 829.34 1152.23 833.45 1158.83 837.43 1165.34 841.28 1171.75 845.01 1178.09 848.62 1184.33 852.11 1190.5 855.48 1196.59 858.74 1202.6 861.89 1208.53 864.94 1214.4 867.88 1220.19 870.72 1225.91 873.47 1231.56 876.13 1237.14 878.7 1242.66 881.18 1248.12 883.57 1253.51 885.89 1258.84 888.13 1264.12 890.3 1269.33 892.39 1274.49 894.42 1279.59 896.37 1284.64 898.27 1289.64 900.1 1294.58 901.87 1299.47 903.59 1304.32 905.25 1309.11 906.85 1313.85 908.41 1318.55 909.91 1323.2 911.37 1327.81 912.79 1332.37 914.16 1336.89 915.48 1341.37 916.77 1345.8 918.02"/>
<text class="tk" text-anchor="middle" x="131.8" y="1022">0.0</text>
<text class="tk" text-anchor="middle" x="368.45" y="1022">0.5</text>
<text class="tk" text-anchor="middle" x="605.1" y="1022">1.0</text>
<text class="tk" text-anchor="middle" x="841.76" y="1022">1.5</text>
<text class="tk" text-anchor="middle" x="1078.41" y="1022">2.0</text>
<text class="tk" text-anchor="middle" x="1315.06" y="1022">2.5</text>
<text class="tk" text-anchor="end" x="62.7" y="986">0.0</text>
<text class="tk" text-anchor="end" x="62.7" y="910">0.2</text>
<text class="tk" text-anchor="end" x="62.7" y="834">0.4</text>
<text class="tk" text-anchor="end" x="62.7" y="757">0.6</text>
<text class="tk" text-anchor="end" x="62.7" y="681">0.8</text>
<text class="tk" text-anchor="end" x="62.7" y="605">1.0</text>
<text class="tt" text-anchor="middle" x="738.8" y="564">Log-Logistic Survival Function</text>
</g>
<g id="ax3">
<rect x="1512.3" y="575.1" width="1335.6" height="417.6" fill="#eeeeee"/>
<path class="g" stroke-linecap="butt" d="M1674.49 575.1V992.7M1876.85 575.1V992.7M2079.22 575.1V992.7M2281.58 575.1V992.7M2483.95 575.1V992.7M2686.31 575.1V992.7M1512.3 974.17H2847.9M1512.3 898.23H2847.9M1512.3 822.29H2847.9M1512.3 746.36H2847.9M1512.3 670.42H2847.9M1512.3 594.48H2847.9"/>
<path class="l" stroke="#2b2ee3" d="M1573.31 594.48 1585.57 594.48 1597.84 594.48 1610.1 594.48 1622.37 594.48 1634.63 594.48 1646.9 594.48 1659.16 594.48 1671.42 594.48 1683.69 594.48 1695.95 594.48 1708.22 594.48 1720.48 594.48 1732.75 594.48 1745.01 594.48 1757.28 594.48 1769.54 594.48 1781.8 594.48 1794.07 594.48 1806.33 594.48 1818.6 594.48 1830.86 594.48 1843.13 594.48 1855.39 594.48 1867.66 594.48 1879.92 594.48 1892.19 594.48 1904.45 594.48 1916.71 594.48 1928.98 594.48 1941.24 594.48 1953.51 594.48 1965.77 594.48 1978.04 594.48 1990.3 594.48 2002.57 594.48 2014.83 594.48 2027.09 594.48 2039.36 594.48 2051.62 594.48 2063.89 594.48 2076.15 594.49 2088.42 594.49 2100.68 594.49 2112.95 594.49 2125.21 594.49 2137.47 594.49 2149.74 594.5 2162 594.51 2174.27 594.53 2186.53 594.55 2198.8 594.58 2211.06 594.63 2223.33 594.71 2235.59 594.82 2247.85 594.98 2260.12 595.22 2272.38 595.56 2284.65 596.06 2296.91 596.77 2309.18 597.79 2321.44 599.22 2333.71 601.25 2345.97 604.08 2358.23 608.01 2370.5 613.42 2382.76 620.79 2395.03 630.72 2407.29 643.93 2419.56 661.2 2431.82 683.32 2444.09 710.89 2456.35 744.09 2468.61 782.33 2480.88 823.9 2493.14 865.81 2505.41 904.11 2517.67 934.94 2529.94 955.97 2542.2 967.57 2554.47 972.43 2566.73 973.87 2579 974.14 2591.26 974.16 2603.52 974.17 2615.79 974.17 2628.05 974.17 2640.32 974.17 2652.58 974.17 2664.85 974.17 2677.11 974.17 2689.38 974.17 2701.64 974.17 2713.9 974.17 2726.17 974.17 2738.43 974.17 2750.7 974.17 2762.96 974.17 2775.23 974.17 2787.49 974.17"/>
<path class="l" stroke="#ea8337" d="M1573.31 594.48 1585.57 594.48 1597.84 594.48 1610.1 594.48 1622.37 594.48 1634.63 594.48 1646.9 594.48 1659.16 594.48 1671.42 594.48 1683.69 594.48 1695.95 594.48 1708.22 594.48 1720.48 594.48 1732.75 594.48 1745.01 594.48 1757.28 594.48 1769.54 594.48 1781.8 594.48 1794.07 594.48 1806.33 594.48 1818.6 594.48 1830.86 594.48 1843.13 594.48 1855.39 594.48 1867.66 594.48 1879.92 594.48 1892.19 594.48 1904.45 594.48 1916.71 594.48 1928.98 594.48 1941.24 594.48 1953.51 594.48 1965.77 594.48 1978.04 594.48 1990.3 594.48 2002.57 594.48 2014.83 594.48 2027.09 594.48 2039.36 594.48 2051.62 594.48 2063.89 594.48 2076.15 594.48 2088.42 594.48 2100.68 594.48 2112.95 594.48 2125.21 594.48 2137.47 594.48 2149.74 594.48 2162 594.48 2174.27 594.48 2186.53 594.49 2198.8 594.49 2211.06 594.49 2223.33 594.49 2235.59 594.49 2247.85 594.49 2260.12 594.5 2272.38 594.51 2284.65 594.52 2296.91 594.53 2309.18 594.55 2321.44 594.59 2333.71 594.63 2345.97 594.69 2358.23 594.78 2370.5 594.9 2382.76 595.06 2395.03 595.29 2407.29 595.61 2419.56 596.04 2431.82 596.62 2444.09 597.42 2456.35 598.49 2468.61 599.94 2480.88 601.87 2493.14 604.44 2505.41 607.85 2517.67 612.32 2529.94 618.17 2542.2 625.75 2554.47 635.48 2566.73 647.83 2579 663.33 2591.26 682.44 2603.52 705.55 2615.79 732.82 2628.05 764.03 2640.32 798.4 2652.58 834.49 2664.85 870.16 2677.11 902.85 2689.38 930.12 2701.64 950.32 2713.9 963.23 2726.17 970.09 2738.43 973 2750.7 973.92 2762.96 974.13 2775.23 974.16 2787.49 974.17"/>
<path class="l" stroke="#4c8a28" d="M1573.31 594.48 1585.57 594.48 1597.84 594.48 1610.1 594.48 1622.37 594.48 1634.63 594.48 1646.9 594.48 1659.16 594.48 1671.42 594.48 1683.69 594.48 1695.95 594.48 1708.22 594.48 1720.48 594.48 1732.75 594.48 1745.01 594.48 1757.28 594.48 1769.54 594.48 1781.8 594.48 1794.07 594.48 1806.33 594.48 1818.6 594.48 1830.86 594.48 1843.13 594.48 1855.39 594.48 1867.66 594.48 1879.92 594.48 1892.19 594.48 1904.45 594.48 1916.71 594.48 1928.98 594.48 1941.24 594.48 1953.51 594.48 1965.77 594.48 1978.04 594.48 1990.3 594.48 2002.57 594.48 2014.83 594.48 2027.09 594.48 2039.36 594.48 2051.62 594.48 2063.89 594.48 2076.15 594.48 2088.42 594.48 2100.68 594.48 2112.95 594.48 2125.21 594.48 2137.47 594.48 2149.74 594.48 2162 594.48 2174.27 594.48 2186.53 594.48 2198.8 594.48 2211.06 594.48 2223.33 594.48 2235.59 594.48 2247.85 594.48 2260.12 594.48 2272.38 594.48 2284.65 594.49 2296.91 594.49 2309.18 594.49 2321.44 594.49 2333.71 594.49 2345.97 594.49 2358.23 594.49 2370.5 594.5 2382.76 594.5 2395.03 594.51 2407.29 594.52 2419.56 594.54 2431.82 594.56 2444.09 594.59 2456.35 594.63 2468.61 594.68 2480.88 594.75 2493.14 594.84 2505.41 594.97 2517.67 595.13 2529.94 595.35 2542.2 595.64 2554.47 596.02 2566.73 596.52 2579 597.17 2591.26 598.02 2603.52 599.12 2615.79 600.54 2628.05 602.37 2640.32 604.72 2652.58 607.73 2664.85 611.54 2677.11 616.37 2689.38 622.43 2701.64 630.01 2713.9 639.4 2726.17 650.94 2738.43 664.96 2750.7 681.78 2762.96 701.67 2775.23 724.74 2787.49 750.91"/>
<path class="l" stroke="#b1288c" d="M1573.31 594.48 1585.57 594.48 1597.84 594.48 1610.1 594.48 1622.37 594.48 1634.63 594.48 1646.9 594.48 1659.16 594.48 1671.42 594.48 1683.69 594.48 1695.95 594.48 1708.22 594.48 1720.48 594.48 1732.75 594.48 1745.01 594.48 1757.28 594.48 1769.54 594.48 1781.8 594.48 1794.07 594.48 1806.33 594.48 1818.6 594.48 1830.86 594.48 1843.13 594.48 1855.39 594.48 1867.66 594.48 1879.92 594.48 1892.19 594.48 1904.45 594.48 1916.71 594.48 1928.98 594.48 1941.24 594.48 1953.51 594.48 1965.77 594.48 1978.04 594.48 1990.3 594.48 2002.57 594.48 2014.83 594.48 2027.09 594.48 2039.36 594.48 2051.62 594.48 2063.89 594.48 2076.15 594.48 2088.42 594.48 2100.68 594.48 2112.95 594.48 2125.21 594.48 2137.47 594.48 2149.74 594.48 2162 594.48 2174.27 594.48 2186.53 594.48 2198.8 594.48 2211.06 594.48 2223.33 594.48 2235.59 594.48 2247.85 594.48 2260.12 594.48 2272.38 594.48 2284.65 594.48 2296.91 594.48 2309.18 594.48 2321.44 594.48 2333.71 594.48 2345.97 594.48 2358.23 594.48 2370.5 594.48 2382.76 594.49 2395.03 594.49 2407.29 594.49 2419.56 594.49 2431.82 594.49 2444.09 594.49 2456.35 594.49 2468.61 594.49 2480.88 594.5 2493.14 594.5 2505.41 594.51 2517.67 594.52 2529.94 594.53 2542.2 594.55 2554.47 594.57 2566.73 594.59 2579 594.63 2591.26 594.67 2603.52 594.73 2615.79 594.81 2628.05 594.9 2640.32 595.03 2652.58 595.19 2664.85 595.4 2677.11 595.67 2689.38 596.01 2701.64 596.44 2713.9 596.99 2726.17 597.69 2738.43 598.56 2750.7 599.67 2762.96 601.05 2775.23 602.79 2787.49 604.95"/>
<path class="l" stroke="#883d19" d="M1573.31 634.41 1585.57 643.98 1597.84 654.33 1610.1 665.36 1622.37 676.98 1634.63 689.1 1646.9 701.61 1659.16 714.43 1671.42 727.45 1683.69 740.58 1695.95 753.73 1708.22 766.82 1720.48 779.77 1732.75 792.5 1745.01 804.95 1757.28 817.07 1769.54 828.79 1781.8 840.07 1794.07 850.89 1806.33 861.2 1818.6 870.98 1830.86 880.23 1843.13 888.92 1855.39 897.07 1867.66 904.66 1879.92 911.71 1892.19 918.22 1904.45 924.22 1916.71 929.73 1928.98 934.75 1941.24 939.32 1953.51 943.46 1965.77 947.2 1978.04 950.56 1990.3 953.57 2002.57 956.25 2014.83 958.64 2027.09 960.75 2039.36 962.61 2051.62 964.24 2063.89 965.68 2076.15 966.93 2088.42 968.01 2100.68 968.95 2112.95 969.76 2125.21 970.46 2137.47 971.06 2149.74 971.56 2162 972 2174.27 972.36 2186.53 972.67 2198.8 972.93 2211.06 973.15 2223.33 973.33 2235.59 973.49 2247.85 973.61 2260.12 973.72 2272.38 973.8 2284.65 973.87 2296.91 973.93 2309.18 973.98 2321.44 974.01 2333.71 974.05 2345.97 974.07 2358.23 974.09 2370.5 974.11 2382.76 974.12 2395.03 974.13 2407.29 974.14 2419.56 974.14 2431.82 974.15 2444.09 974.15 2456.35 974.16 2468.61 974.16 2480.88 974.16 2493.14 974.16 2505.41 974.16 2517.67 974.16 2529.94 974.16 2542.2 974.16 2554.47 974.16 2566.73 974.17 2579 974.17 2591.26 974.17 2603.52 974.17 2615.79 974.17 2628.05 974.17 2640.32 974.17 2652.58 974.17 2664.85 974.17 2677.11 974.17 2689.38 974.17 2701.64 974.17 2713.9 974.17 2726.17 974.17 2738.43 974.17 2750.7 974.17 2762.96 974.17 2775.23 974.17 2787.49 974.17"/>
<path class="l" stroke="#88e2f0" d="M1573.31 611 1585.57 617.13 1597.84 624.47 1610.1 633.05 1622.37 642.87 1634.63 653.93 1646.9 666.17 1659.16 679.53 1671.42 693.9 1683.69 709.15 1695.95 725.15 1708.22 741.71 1720.48 758.66 1732.75 775.8 1745.01 792.93 1757.28 809.87 1769.54 826.42 1781.8 842.4 1794.07 857.66 1806.33 872.07 1818.6 885.52 1830.86 897.92 1843.13 909.22 1855.39 919.4 1867.66 928.45 1879.92 936.41 1892.19 943.32 1904.45 949.25 1916.71 954.26 1928.98 958.45 1941.24 961.9 1953.51 964.72 1965.77 966.97 1978.04 968.76 1990.3 970.16 2002.57 971.23 2014.83 972.05 2027.09 972.65 2039.36 973.1 2051.62 973.43 2063.89 973.66 2076.15 973.83 2088.42 973.94 2100.68 974.02 2112.95 974.07 2125.21 974.11 2137.47 974.13 2149.74 974.14 2162 974.15 2174.27 974.16 2186.53 974.16 2198.8 974.16 2211.06 974.16 2223.33 974.17 2235.59 974.17 2247.85 974.17 2260.12 974.17 2272.38 974.17 2284.65 974.17 2296.91 974.17 2309.18 974.17 2321.44 974.17 2333.71 974.17 2345.97 974.17 2358.23 974.17 2370.5 974.17 2382.76 974.17 2395.03 974.17 2407.29 974.17 2419.56 974.17 2431.82 974.17 2444.09 974.17 2456.35 974.17 2468.61 974.17 2480.88 974.17 2493.14 974.17 2505.41 974.17 2517.67 974.17 2529.94 974.17 2542.2 974.17 2554.47 974.17 2566.73 974.17 2579 974.17 2591.26 974.17 2603.52 974.17 2615.79 974.17 2628.05 974.17 2640.32 974.17 2652.58 974.17 2664.85 974.17 2677.11 974.17 2689.38 974.17 2701.64 974.17 2713.9 974.17 2726.17 974.17 2738.43 974.17 2750.7 974.17 2762.96 974.17 2775.23 974.17 2787.49 974.17"/>
<path class="l" stroke="#e5e159" d="M1573.31 601.18 1585.57 604.63 1597.84 609.18 1610.1 614.99 1622.37 622.22 1634.63 631.01 1646.9 641.47 1659.16 653.65 1671.42 667.57 1683.69 683.2 1695.95 700.45 1708.22 719.13 1720.48 739.02 1732.75 759.82 1745.01 781.19 1757.28 802.73 1769.54 824.05 1781.8 844.72 1794.07 864.38 1806.33 882.68 1818.6 899.34 1830.86 914.17 1843.13 927.07 1855.39 938.01 1867.66 947.05 1879.92 954.33 1892.19 960.03 1904.45 964.37 1916.71 967.57 1928.98 969.85 1941.24 971.43 1953.51 972.49 1965.77 973.17 1978.04 973.6 1990.3 973.85 2002.57 974 2014.83 974.08 2027.09 974.13 2039.36 974.15 2051.62 974.16 2063.89 974.16 2076.15 974.16 2088.42 974.17 2100.68 974.17 2112.95 974.17 2125.21 974.17 2137.47 974.17 2149.74 974.17 2162 974.17 2174.27 974.17 2186.53 974.17 2198.8 974.17 2211.06 974.17 2223.33 974.17 2235.59 974.17 2247.85 974.17 2260.12 974.17 2272.38 974.17 2284.65 974.17 2296.91 974.17 2309.18 974.17 2321.44 974.17 2333.71 974.17 2345.97 974.17 2358.23 974.17 2370.5 974.17 2382.76 974.17 2395.03 974.17 2407.29 974.17 2419.56 974.17 2431.82 974.17 2444.09 974.17 2456.35 974.17 2468.61 974.17 2480.88 974.17 2493.14 974.17 2505.41 974.17 2517.67 974.17 2529.94 974.17 2542.2 974.17 2554.47 974.17 2566.73 974.17 2579 974.17 2591.26 974.17 2603.52 974.17 2615.79 974.17 2628.05 974.17 2640.32 974.17 2652.58 974.17 2664.85 974.17 2677.11 974.17 2689.38 974.17 2701.64 974.17 2713.9 974.17 2726.17 974.17 2738.43 974.17 2750.7 974.17 2762.96 974.17 2775.23 974.17 2787.49 974.17"/>
<path class="l" stroke="#60ca74" d="M1573.31 597.18 1585.57 598.99 1597.84 601.6 1610.1 605.26 1622.37 610.18 1634.63 616.63 1646.9 624.86 1659.16 635.1 1671.42 647.56 1683.69 662.37 1695.95 679.61 1708.22 699.21 1720.48 721.01 1732.75 744.69 1745.01 769.77 1757.28 795.67 1769.54 821.68 1781.8 847.04 1794.07 871.02 1806.33 892.93 1818.6 912.24 1830.86 928.62 1843.13 941.96 1855.39 952.33 1867.66 960.03 1879.92 965.46 1892.19 969.09 1904.45 971.37 1916.71 972.72 1928.98 973.47 1941.24 973.85 1953.51 974.03 1965.77 974.12 1978.04 974.15 1990.3 974.16 2002.57 974.16 2014.83 974.17 2027.09 974.17 2039.36 974.17 2051.62 974.17 2063.89 974.17 2076.15 974.17 2088.42 974.17 2100.68 974.17 2112.95 974.17 2125.21 974.17 2137.47 974.17 2149.74 974.17 2162 974.17 2174.27 974.17 2186.53 974.17 2198.8 974.17 2211.06 974.17 2223.33 974.17 2235.59 974.17 2247.85 974.17 2260.12 974.17 2272.38 974.17 2284.65 974.17 2296.91 974.17 2309.18 974.17 2321.44 974.17 2333.71 974.17 2345.97 974.17 2358.23 974.17 2370.5 974.17 2382.76 974.17 2395.03 974.17 2407.29 974.17 2419.56 974.17 2431.82 974.17 2444.09 974.17 2456.35 974.17 2468.61 974.17 2480.88 974.17 2493.14 974.17 2505.41 974.17 2517.67 974.17 2529.94 974.17 2542.2 974.17 2554.47 974.17 2566.73 974.17 2579 974.17 2591.26 974.17 2603.52 974.17 2615.79 974.17 2628.05 974.17 2640.32 974.17 2652.58 974.17 2664.85 974.17 2677.11 974.17 2689.38 974.17 2701.64 974.17 2713.9 974.17 2726.17 974.17 2738.43 974.17 2750.7 974.17 2762.96 974.17 2775.23 974.17 2787.49 974.17"/>
<path class="l" stroke="#b58cd0" d="M1573.31 595.57 1585.57 596.47 1597.84 597.92 1610.1 600.11 1622.37 603.3 1634.63 607.8 1646.9 613.95 1659.16 622.12 1671.42 632.69 1683.69 646 1695.95 662.36 1708.22 681.93 1720.48 704.71 1732.75 730.48 1745.01 758.74 1757.28 788.7 1769.54 819.31 1781.8 849.36 1794.07 877.55 1806.33 902.74 1818.6 924.04 1830.86 940.99 1843.13 953.61 1855.39 962.33 1867.66 967.89 1879.92 971.13 1892.19 972.84 1904.45 973.65 1916.71 973.99 1928.98 974.11 1941.24 974.15 1953.51 974.16 1965.77 974.17 1978.04 974.17 1990.3 974.17 2002.57 974.17 2014.83 974.17 2027.09 974.17 2039.36 974.17 2051.62 974.17 2063.89 974.17 2076.15 974.17 2088.42 974.17 2100.68 974.17 2112.95 974.17 2125.21 974.17 2137.47 974.17 2149.74 974.17 2162 974.17 2174.27 974.17 2186.53 974.17 2198.8 974.17 2211.06 974.17 2223.33 974.17 2235.59 974.17 2247.85 974.17 2260.12 974.17 2272.38 974.17 2284.65 974.17 2296.91 974.17 2309.18 974.17 2321.44 974.17 2333.71 974.17 2345.97 974.17 2358.23 974.17 2370.5 974.17 2382.76 974.17 2395.03 974.17 2407.29 974.17 2419.56 974.17 2431.82 974.17 2444.09 974.17 2456.35 974.17 2468.61 974.17 2480.88 974.17 2493.14 974.17 2505.41 974.17 2517.67 974.17 2529.94 974.17 2542.2 974.17 2554.47 974.17 2566.73 974.17 2579 974.17 2591.26 974.17 2603.52 974.17 2615.79 974.17 2628.05 974.17 2640.32 974.17 2652.58 974.17 2664.85 974.17 2677.11 974.17 2689.38 974.17 2701.64 974.17 2713.9 974.17 2726.17 974.17 2738.43 974.17 2750.7 974.17 2762.96 974.17 2775.23 974.17 2787.49 974.17"/>
<path class="l" stroke="#a76e5b" d="M1573.31 594.92 1585.57 595.36 1597.84 596.13 1610.1 597.41 1622.37 599.42 1634.63 602.45 1646.9 606.89 1659.16 613.17 1671.42 621.81 1683.69 633.33 1695.95 648.28 1708.22 667.11 1720.48 690.1 1732.75 717.24 1745.01 748.12 1757.28 781.83 1769.54 816.95 1781.8 851.67 1794.07 883.98 1806.33 912.04 1818.6 934.57 1830.86 951.11 1843.13 962.07 1855.39 968.54 1867.66 971.89 1879.92 973.38 1892.19 973.94 1904.45 974.11 1916.71 974.16 1928.98 974.16 1941.24 974.17 1953.51 974.17 1965.77 974.17 1978.04 974.17 1990.3 974.17 2002.57 974.17 2014.83 974.17 2027.09 974.17 2039.36 974.17 2051.62 974.17 2063.89 974.17 2076.15 974.17 2088.42 974.17 2100.68 974.17 2112.95 974.17 2125.21 974.17 2137.47 974.17 2149.74 974.17 2162 974.17 2174.27 974.17 2186.53 974.17 2198.8 974.17 2211.06 974.17 2223.33 974.17 2235.59 974.17 2247.85 974.17 2260.12 974.17 2272.38 974.17 2284.65 974.17 2296.91 974.17 2309.18 974.17 2321.44 974.17 2333.71 974.17 2345.97 974.17 2358.23 974.17 2370.5 974.17 2382.76 974.17 2395.03 974.17 2407.29 974.17 2419.56 974.17 2431.82 974.17 2444.09 974.17 2456.35 974.17 2468.61 974.17 2480.88 974.17 2493.14 974.17 2505.41 974.17 2517.67 974.17 2529.94 974.17 2542.2 974.17 2554.47 974.17 2566.73 974.17 2579 974.17 2591.26 974.17 2603.52 974.17 2615.79 974.17 2628.05 974.17 2640.32 974.17 2652.58 974.17 2664.85 974.17 2677.11 974.17 2689.38 974.17 2701.64 974.17 2713.9 974.17 2726.17 974.17 2738.43 974.17 2750.7 974.17 2762.96 974.17 2775.23 974.17 2787.49 974.17"/>
<path class="l" stroke="#2b2ee3" d="M1573.31 594.66 1585.57 594.87 1597.84 595.28 1610.1 596 1622.37 597.24 1634.63 599.24 1646.9 602.36 1659.16 607.07 1671.42 613.94 1683.69 623.64 1695.95 636.92 1708.22 654.54 1720.48 677.12 1732.75 704.98 1745.01 737.94 1757.28 775.07 1769.54 814.6 1781.8 853.98 1794.07 890.26 1806.33 920.75 1818.6 943.74 1830.86 959 1843.13 967.71 1855.39 971.89 1867.66 973.52 1879.92 974.02 1892.19 974.14 1904.45 974.16 1916.71 974.17 1928.98 974.17 1941.24 974.17 1953.51 974.17 1965.77 974.17 1978.04 974.17 1990.3 974.17 2002.57 974.17 2014.83 974.17 2027.09 974.17 2039.36 974.17 2051.62 974.17 2063.89 974.17 2076.15 974.17 2088.42 974.17 2100.68 974.17 2112.95 974.17 2125.21 974.17 2137.47 974.17 2149.74 974.17 2162 974.17 2174.27 974.17 2186.53 974.17 2198.8 974.17 2211.06 974.17 2223.33 974.17 2235.59 974.17 2247.85 974.17 2260.12 974.17 2272.38 974.17 2284.65 974.17 2296.91 974.17 2309.18 974.17 2321.44 974.17 2333.71 974.17 2345.97 974.17 2358.23 974.17 2370.5 974.17 2382.76 974.17 2395.03 974.17 2407.29 974.17 2419.56 974.17 2431.82 974.17 2444.09 974.17 2456.35 974.17 2468.61 974.17 2480.88 974.17 2493.14 974.17 2505.41 974.17 2517.67 974.17 2529.94 974.17 2542.2 974.17 2554.47 974.17 2566.73 974.17 2579 974.17 2591.26 974.17 2603.52 974.17 2615.79 974.17 2628.05 974.17 2640.32 974.17 2652.58 974.17 2664.85 974.17 2677.11 974.17 2689.38 974.17 2701.64 974.17 2713.9 974.17 2726.17 974.17 2738.43 974.17 2750.7 974.17 2762.96 974.17 2775.23 974.17 2787.49 974.17"/>
<text class="tk" text-anchor="middle" x="1674.49" y="1022">2</text>
<text class="tk" text-anchor="middle" x="1876.85" y="1022">4</text>
<text class="tk" text-anchor="middle" x="2079.22" y="1022">6</text>
<text class="tk" text-anchor="middle" x="2281.58" y="1022">8</text>
<text class="tk" text-anchor="middle" x="2483.95" y="1022">10</text>
<text class="tk" text-anchor="middle" x="2686.31" y="1022">12</text>
<text class="tk" text-anchor="end" x="1504.7" y="985">0.0</text>
<text class="tk" text-anchor="end" x="1504.7" y="909">0.2</text>
<text class="tk" text-anchor="end" x="1504.7" y="833">0.4</text>
<text class="tk" text-anchor="end" x="1504.7" y="757">0.6</text>
<text class="tk" text-anchor="end" x="1504.7" y="681">0.8</text>
<text class="tk" text-anchor="end" x="1504.7" y="605">1.0</text>
<text class="tt" text-anchor="middle" x="2180.4" y="564">Weibull Survival Function</text>
</g>
</svg>
</body></html>
